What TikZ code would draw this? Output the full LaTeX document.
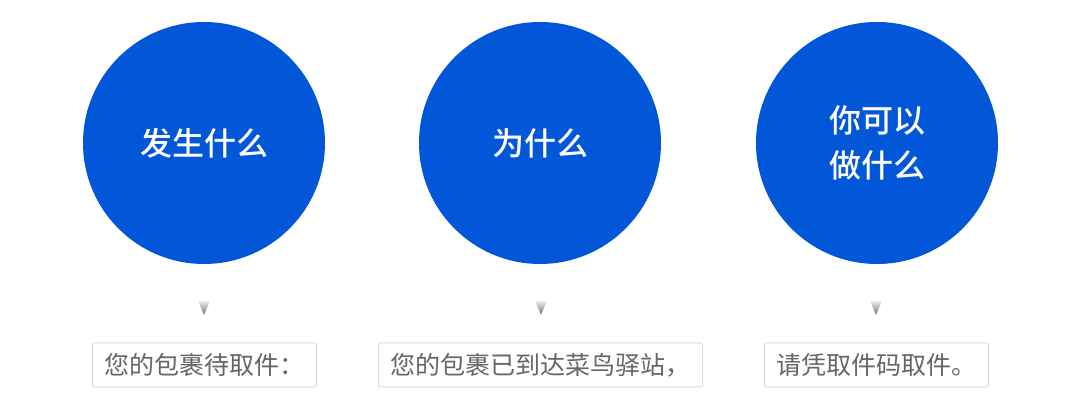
\documentclass[tikz,border=0pt]{standalone}
\usepackage{fontspec}
\newfontfamily\cjk{Noto Sans CJK SC}
\newfontfamily\cjkhead{Noto Sans CJK SC}[UprightFont=* Medium]
\usetikzlibrary{positioning}
\definecolor{bubbleblue}{RGB}{2,86,216}
\definecolor{captiongray}{RGB}{102,102,102}
\definecolor{framegray}{RGB}{221,221,221}

\begin{document}
\begin{tikzpicture}[x=1pt, y=-1pt,
		bubble/.style={circle, fill=bubbleblue, minimum size=242pt, inner sep=0pt, text=white, align=center, font=\cjkhead\fontsize{32}{45}\selectfont},
		notebox/.style={draw=framegray, line width=1pt, rounded corners=2pt, fill=white, minimum height=44pt, inner xsep=12pt, inner ysep=0pt, text=captiongray, font=\cjk\fontsize{25}{25}\selectfont},
		marker/.style={top color=gray!15, bottom color=black!55, draw=none}]
		\useasboundingbox (0,0) rectangle (1080,411);
		
		\node[bubble] (what) at (204,143) {发生什么};
		\node[bubble] (why) at (540,143) {为什么};
		\node[bubble] (todo) at (877,143) {你可以\\做什么};
		
		\coordinate (m1) at (204,301);
		\coordinate (m2) at (541,301);
		\coordinate (m3) at (876,301);
		\shade[marker] (m1) ++(-6,0) -- ++(12,0) -- ++(-6,14) -- cycle;
		\shade[marker] (m2) ++(-6,0) -- ++(12,0) -- ++(-6,14) -- cycle;
		\shade[marker] (m3) ++(-6,0) -- ++(12,0) -- ++(-6,14) -- cycle;
		
		\node[notebox] (note1) at (204.5,365) {您的包裹待取件：};
		\node[notebox] (note2) at (540.5,365) {您的包裹已到达菜鸟驿站，};
		\node[notebox] (note3) at (876.5,365) {请凭取件码取件。};
	\end{tikzpicture}
\end{document}
